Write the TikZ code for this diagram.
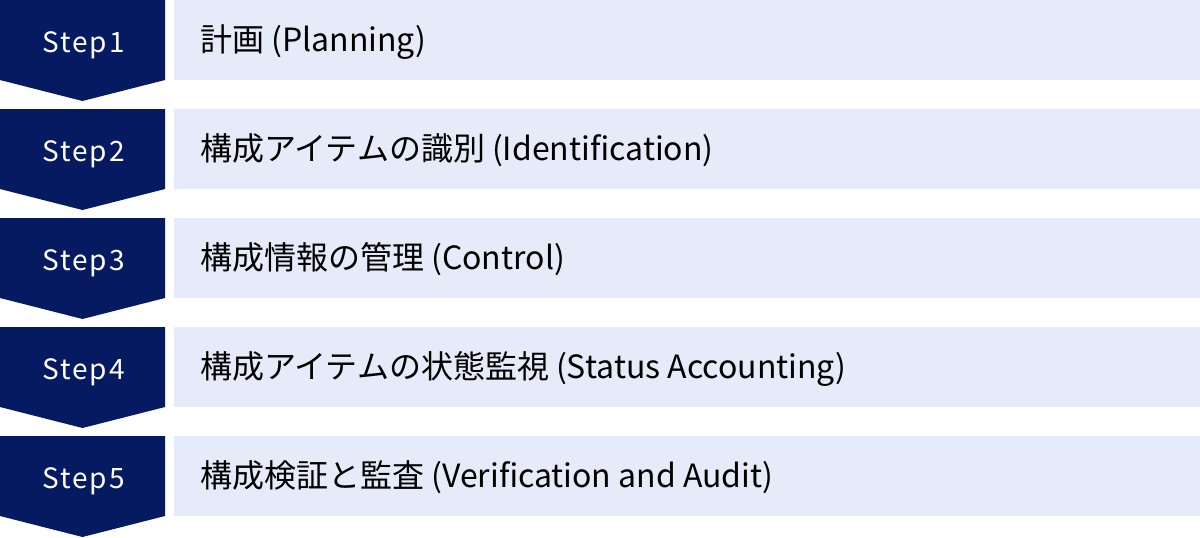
\documentclass[tikz,border=0pt]{standalone}
\usepackage{fontspec}
\setmainfont{Noto Sans CJK JP}
\newfontfamily\stepfont[LetterSpace=7]{Noto Sans CJK JP}
\usepackage{tikz}
\usetikzlibrary{
    calc,
    positioning
}
\definecolor{stepnavy}{HTML}{061A62}
\definecolor{rowblue}{HTML}{E5EBF8}
\tikzset{
    stepmark/.style={fill=stepnavy},
    rowbox/.style={fill=rowblue, minimum width=1026pt, minimum height=80pt, inner sep=0pt, anchor=north west},
    stepname/.style={text=white, anchor=base, inner sep=0pt, font=\stepfont\fontsize{28}{32}\selectfont},
    rowtext/.style={anchor=base west, inner sep=0pt, font=\fontsize{32}{38}\selectfont}
}

\begin{document}
\begin{tikzpicture}[x=1pt, y=-1pt]
                        \useasboundingbox (0, 0) rectangle (1200, 538);

                        \foreach \i/\txt in {
                            1/{計画 (Planning)},
                            2/{構成アイテムの識別 (Identification)},
                            3/{構成情報の管理 (Control)},
                            4/{構成アイテムの状態監視 (Status Accounting)},
                            5/{構成検証と監査 (Verification and Audit)}} {
                            \pgfmathsetmacro{\rowtop}{(\i-1)*109}
                            \fill[stepmark] (0, \rowtop) -- (165, \rowtop) -- (165, \rowtop+80)
                                -- (82.5, \rowtop+101) -- (0, \rowtop+80) -- cycle;
                            \node[rowbox] (row\i) at (174, \rowtop) {};
                            \node[stepname] (step\i) at (83.5, \rowtop+52) {Step\i};
                            \node[rowtext] (label\i) at (200, \rowtop+51) {\txt};
                        }
                    \end{tikzpicture}
\end{document}
